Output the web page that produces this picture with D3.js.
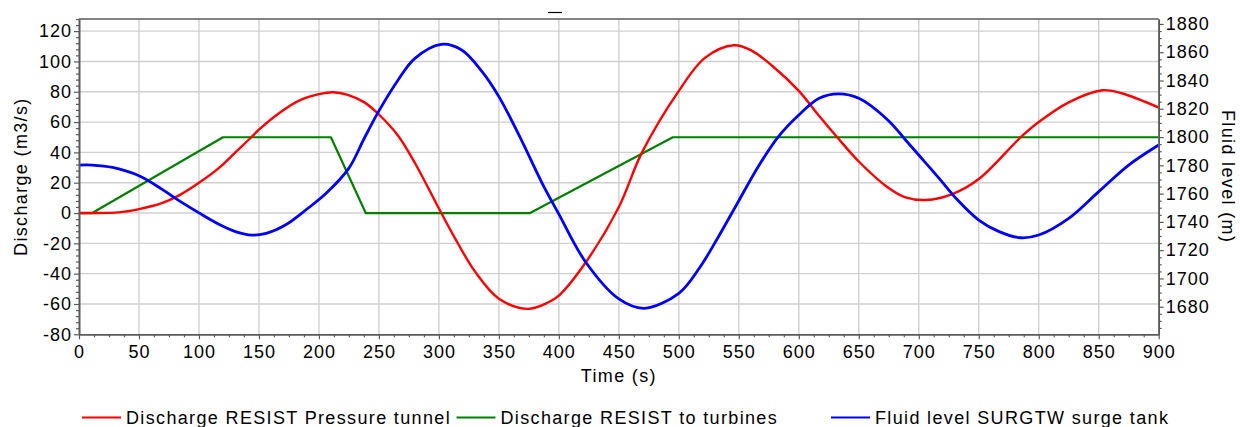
<!DOCTYPE html>
<html>
<head>
<meta charset="utf-8">
<script src="https://cdn.jsdelivr.net/npm/d3@7.9.0/dist/d3.min.js"></script>
<style>
  html, body { margin: 0; padding: 0; background: #fff; }
  text { font-family: "Liberation Sans", Arial, sans-serif; fill: #000; letter-spacing: 1px; }
  .title, .legend text { letter-spacing: 1.35px; }
</style>
</head>
<body>
<svg id="chart" width="1240" height="427"></svg>
<script>
// ----- data -----
// Discharge RESIST Pressure tunnel (m3/s)
const redTime = [0, 11, 33, 50, 69, 83, 100, 117, 131, 143, 150, 167, 183, 200, 212, 224, 238, 250, 266, 280,
  302, 313, 330, 350, 374, 391, 400, 422, 450, 469, 500, 522, 546, 561, 578, 600, 617, 632, 650, 674,
  689, 706, 728, 750, 785, 800, 825, 853, 869, 900];
const redFlow = [0, 0, 0.4, 2.6, 6.5, 11.5, 20, 30, 40.5, 49.5, 55, 66, 74, 78.4, 79.7, 78, 73, 65, 51, 33,
  0, -16, -38.5, -56.5, -63.2, -59, -54.5, -33, 4, 39.5, 80.6, 102.5, 110.7, 107, 97, 80.6, 64, 50, 34, 17,
  10.3, 8.6, 12.5, 22.4, 50, 60, 73, 81, 79, 69.6];

// Discharge RESIST to turbines (m3/s)
const greenTime = [0, 11, 120, 210, 239, 376, 495, 900];
const greenFlow = [0, 0, 50, 50, 0, 0, 50, 50];

// Fluid level SURGTW surge tank (m)
const blueTime = [0, 11, 28, 50, 69, 83, 100, 117, 131, 144, 156, 172, 189, 206, 225, 238, 250, 266, 280, 302,
  319, 336, 350, 369, 386, 400, 422, 450, 471, 500, 517, 533, 550, 567, 583, 600, 617, 633, 650, 675,
  689, 700, 717, 731, 750, 767, 785, 800, 825, 850, 875, 900];
const blueLevel = [1780.2, 1780.2, 1778.5, 1772.6, 1763.2, 1755.2, 1746.4, 1738.2, 1733, 1730.7, 1731.9, 1737.8, 1748.4, 1760.2, 1778, 1799.5, 1818.5, 1840.4, 1855.7, 1865.6,
  1861.6, 1846.3, 1828.6, 1797.5, 1767.5, 1745.5, 1712, 1685.5, 1678.9, 1689.5, 1707.2, 1729.5, 1755, 1780.2, 1800.3, 1815.6, 1827.4, 1830.5, 1827.4, 1811.4,
  1797.9, 1787.3, 1770.8, 1756.7, 1741.3, 1733.1, 1728.8, 1730.7, 1742.5, 1761.4, 1780.2, 1794.4];

const xTicks = d3.range(0, 901, 50);
const yLeftTicks = d3.range(-80, 121, 20);
const yRightTicks = d3.range(1680, 1881, 20);

const seriesNames = ["Discharge RESIST Pressure tunnel", "Discharge RESIST to turbines", "Fluid level SURGTW surge tank"];
const seriesColors = ["#ff0000", "#008000", "#0000ff"];

// ----- layout -----
const plot = { left: 79, right: 1158.7, top: 19, bottom: 334.3 };
const svg = d3.select("#chart");

const x = d3.scaleLinear().domain([0, 900]).range([plot.left, plot.right]);
const yL = d3.scaleLinear().domain([-80, 128]).range([plot.bottom, plot.top]);
const yR = d3.scaleLinear().domain([1660.5, 1883.5]).range([plot.bottom, plot.top]);

// grid
const grid = svg.append("g").attr("stroke", "#d0d0d0").attr("stroke-width", 1.4);
grid.selectAll("line.v")
  .data(xTicks.filter(d => d > 0 && d < 900))
  .enter().append("line")
  .attr("x1", d => x(d)).attr("x2", d => x(d))
  .attr("y1", plot.top).attr("y2", plot.bottom);
grid.selectAll("line.h")
  .data(yLeftTicks.filter(d => d > -80))
  .enter().append("line")
  .attr("x1", plot.left).attr("x2", plot.right)
  .attr("y1", d => yL(d)).attr("y2", d => yL(d));

// series
svg.append("clipPath").attr("id", "clip").append("rect")
  .attr("x", plot.left).attr("y", plot.top)
  .attr("width", plot.right - plot.left).attr("height", plot.bottom - plot.top);

const lines = svg.append("g").attr("clip-path", "url(#clip)").attr("fill", "none")
  .attr("stroke-linejoin", "round");

const smoothLeft = d3.line().x(d => x(d[0])).y(d => yL(d[1])).curve(d3.curveCatmullRom.alpha(0.5));
const straightLeft = d3.line().x(d => x(d[0])).y(d => yL(d[1]));
const smoothRight = d3.line().x(d => x(d[0])).y(d => yR(d[1])).curve(d3.curveCatmullRom.alpha(0.5));

lines.append("path")
  .attr("d", straightLeft(d3.zip(greenTime, greenFlow)))
  .attr("stroke", seriesColors[1]).attr("stroke-width", 2.2);
lines.append("path")
  .attr("d", smoothLeft(d3.zip(redTime, redFlow)))
  .attr("stroke", seriesColors[0]).attr("stroke-width", 2.4);
lines.append("path")
  .attr("d", smoothRight(d3.zip(blueTime, blueLevel)))
  .attr("stroke", seriesColors[2]).attr("stroke-width", 2.8);

// frame
const axisColor = "#5a5a5a";
svg.append("line")
  .attr("x1", plot.left).attr("x2", plot.right)
  .attr("y1", plot.top).attr("y2", plot.top)
  .attr("stroke", axisColor).attr("stroke-width", 1.6);

function styleAxis(g) {
  g.select(".domain").attr("stroke", axisColor).attr("stroke-width", 1.6);
  g.selectAll(".tick line").attr("stroke", axisColor).attr("stroke-width", 1.2);
  g.selectAll(".tick text").style("font-size", "18px").attr("fill", "#000");
}

// minor ticks
function minorTicks(all, majors) {
  return all.filter(v => !majors.some(m => Math.abs(m - v) < 1e-6));
}

svg.append("g")
  .attr("transform", `translate(0,${plot.bottom})`)
  .call(d3.axisBottom(x).tickValues(minorTicks(d3.range(0, 900.1, 12.5), xTicks)).tickSize(3).tickSizeOuter(0).tickFormat(""))
  .call(styleAxis);
svg.append("g")
  .attr("transform", `translate(${plot.left},0)`)
  .call(d3.axisLeft(yL).tickValues(minorTicks(d3.range(-80, 128.1, 4), yLeftTicks)).tickSize(3).tickSizeOuter(0).tickFormat(""))
  .call(styleAxis);
svg.append("g")
  .attr("transform", `translate(${plot.right},0)`)
  .call(d3.axisRight(yR).tickValues(minorTicks(d3.range(1665, 1883.1, 5), yRightTicks)).tickSize(3).tickSizeOuter(0).tickFormat(""))
  .call(styleAxis);

// major axes
svg.append("g")
  .attr("transform", `translate(0,${plot.bottom})`)
  .call(d3.axisBottom(x).tickValues(xTicks).tickSize(5).tickSizeOuter(0).tickPadding(6).tickFormat(d3.format("d")))
  .call(styleAxis);
svg.append("g")
  .attr("transform", `translate(${plot.left},0)`)
  .call(d3.axisLeft(yL).tickValues(yLeftTicks).tickSize(5).tickSizeOuter(0).tickPadding(2).tickFormat(d => String(d)))
  .call(styleAxis);
svg.append("g")
  .attr("transform", `translate(${plot.right},0)`)
  .call(d3.axisRight(yR).tickValues(yRightTicks).tickSize(5).tickSizeOuter(0).tickPadding(2).tickFormat(d => String(d)))
  .call(styleAxis);

// axis titles
svg.append("text").attr("class", "title")
  .attr("x", (plot.left + plot.right) / 2).attr("y", 381.5)
  .attr("text-anchor", "middle").style("font-size", "18px")
  .text("Time (s)");
svg.append("text").attr("class", "title")
  .attr("transform", `translate(21,${(plot.top + plot.bottom) / 2}) rotate(-90)`)
  .attr("text-anchor", "middle").attr("dy", "0.35em").style("font-size", "18px")
  .text("Discharge (m3/s)");
svg.append("text").attr("class", "title")
  .attr("transform", `translate(1228,${(plot.top + plot.bottom) / 2}) rotate(90)`)
  .attr("text-anchor", "middle").attr("dy", "0.35em").style("font-size", "18px")
  .text("Fluid level (m)");

// empty title marker
svg.append("line")
  .attr("x1", 548).attr("x2", 562).attr("y1", 12.5).attr("y2", 12.5)
  .attr("stroke", "#000").attr("stroke-width", 1.2);

// legend
const legend = svg.append("g").attr("class", "legend");
seriesNames.forEach((name, i) => {
  const lx = 82 + i * 374.5;
  legend.append("line")
    .attr("x1", lx).attr("x2", lx + 39)
    .attr("y1", 417.5).attr("y2", 417.5)
    .attr("stroke", seriesColors[i]).attr("stroke-width", 2.2);
  legend.append("text")
    .attr("x", lx + 44).attr("y", 423.5)
    .style("font-size", "18px")
    .text(name);
});
</script>
</body>
</html>
